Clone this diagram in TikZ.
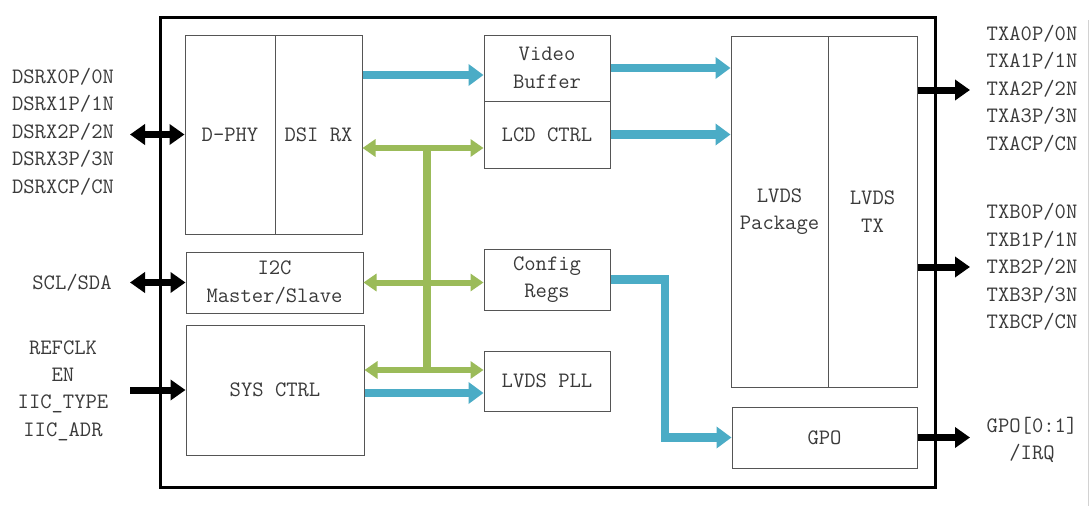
\documentclass[tikz,border=0pt]{standalone}
\usepackage{fontspec}
\usetikzlibrary{arrows.meta}
\definecolor{bblue}{HTML}{4BACC6}
\definecolor{bgreen}{HTML}{9BBB59}
\definecolor{txt}{HTML}{3A3A3A}
\definecolor{boxc}{HTML}{555555}
\newcommand{\lblfont}{\ttfamily\fontsize{22}{27.4}\selectfont}
\begin{document}
\begin{tikzpicture}[x=1pt,y=-1pt,
  blk/.style={draw=boxc,line width=1pt,minimum width=#1,inner sep=0pt,
    font=\lblfont,text=txt,align=center},
  lbl/.style={font=\lblfont,text=txt,align=center,inner sep=0pt},
  blue/.style={draw=bblue,line width=8.5pt,-{Triangle[width=21pt,length=15pt]}},
  green/.style={draw=bgreen,line width=6pt,{Triangle[width=17pt,length=13pt]}-{Triangle[width=17pt,length=13pt]}},
  blk2/.style={draw=black,line width=7pt,{Triangle[width=20pt,length=15pt]}-{Triangle[width=20pt,length=15pt]}},
  blk1/.style={draw=black,line width=7pt,-{Triangle[width=20pt,length=15pt]}}]
\useasboundingbox (0,0) rectangle (1090,506);
\fill[white] (0,0) rectangle (1090,506);
\draw[gray!35,line width=1pt] (1088.5,20) -- (1088.5,506);
% outer chip
\node[draw=black,line width=3pt,minimum width=775pt,minimum height=470pt,inner sep=0pt] (chip) at (547.5,252) {};
% blocks
\node[blk=90pt,minimum height=199pt] (dphy) at (230,134.5) {D-PHY};
\node[blk=87pt,minimum height=199pt] (dsi) at (318.5,134.5) {DSI RX};
\node[blk=177pt,minimum height=61pt] (i2c) at (274.5,282.5) {I2C\\Master/Slave};
\node[blk=178pt,minimum height=130pt] (sys) at (275,390) {SYS CTRL};
\node[blk=126pt,minimum height=66pt] (vb) at (547,68) {Video\\Buffer};
\node[blk=126pt,minimum height=67pt] (lcd) at (547,134.5) {LCD CTRL};
\node[blk=126pt,minimum height=61pt] (cfg) at (547,279.5) {Config\\Regs};
\node[blk=126pt,minimum height=60pt] (pll) at (547,381) {LVDS PLL};
\node[blk=97pt,minimum height=351pt] (pkg) at (779.5,211.5) {LVDS\\Package};
\node[blk=89pt,minimum height=351pt] (tx) at (872.5,211.5) {LVDS\\TX};
\node[blk=185pt,minimum height=61pt] (gpo) at (824.5,437.5) {GPO};
% external labels
\node[lbl] (dsrx) at (63,131.5) {DSRX0P/0N\\DSRX1P/1N\\DSRX2P/2N\\DSRX3P/3N\\DSRXCP/CN};
\node[lbl] (scl) at (72,283) {SCL/SDA};
\node[lbl] (ref) at (63,390.5) {REFCLK\\EN\\IIC\_TYPE\\IIC\_ADR};
\node[lbl] (txa) at (1032,88.5) {TXA0P/0N\\TXA1P/1N\\TXA2P/2N\\TXA3P/3N\\TXACP/CN};
\node[lbl] (txb) at (1032,267) {TXB0P/0N\\TXB1P/1N\\TXB2P/2N\\TXB3P/3N\\TXBCP/CN};
\node[lbl] (gpol) at (1032,440) {GPO[0:1]\\/IRQ};
% helper coordinates
\coordinate (inA) at (130,134.5);
\coordinate (inB) at (130,282.5);
\coordinate (inC) at (130,390);
\coordinate (outA) at (970,90);
\coordinate (outB) at (970,267);
\coordinate (outC) at (970,437.5);
\coordinate (y75) at (0,75);
\coordinate (y393) at (0,393);
\coordinate (bustop) at (427,148);
\coordinate (busbot) at (427,370);
\coordinate (bend) at (665,437.5);
% black external arrows
\draw[blk2] (inA) -- (dphy.west);
\draw[blk2] (inB) -- (i2c.west);
\draw[blk1] (inC) -- (sys.west);
\draw[blk1] (tx.east |- outA) -- (outA);
\draw[blk1] (tx.east |- outB) -- (outB);
\draw[blk1] (gpo.east) -- (outC);
% blue data arrows
\draw[blue] (dsi.east |- y75) -- (vb.west |- y75);
\draw[blue] (vb.east) -- (pkg.west |- vb.east);
\draw[blue] (lcd.east) -- (pkg.west |- lcd.east);
\draw[blue] (sys.east |- y393) -- (pll.west |- y393);
\draw[blue,line join=miter] (cfg.east) -| (bend) -- (gpo.west);
% green control bus
\draw[bgreen,line width=8pt] (bustop) -- (busbot);
\draw[green] (dsi.east |- bustop) -- (lcd.west |- bustop);
\draw[green] (i2c.east) -- (cfg.west |- i2c.east);
\draw[green] (sys.east |- busbot) -- (pll.west |- busbot);
\end{tikzpicture}
\end{document}
